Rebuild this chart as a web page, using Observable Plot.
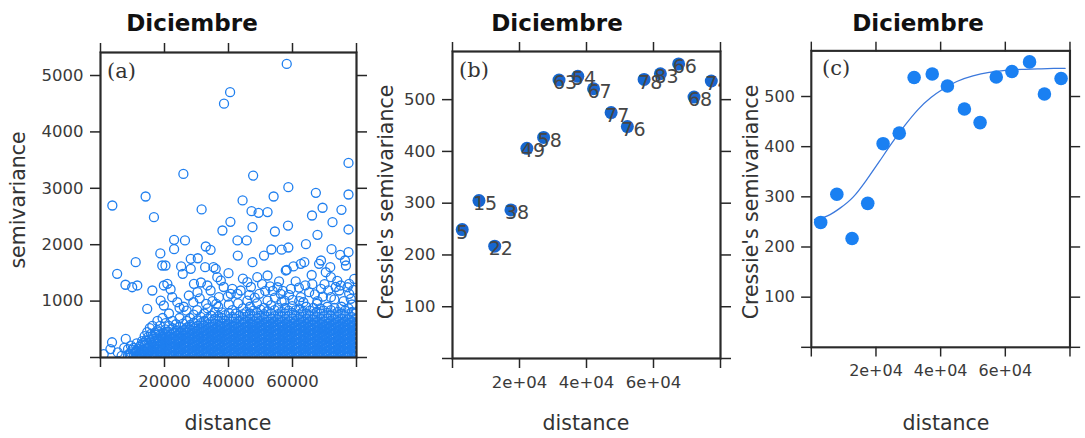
<!DOCTYPE html>
<html><head><meta charset="utf-8">
<script src="https://cdn.jsdelivr.net/npm/d3@7"></script>
<script src="https://cdn.jsdelivr.net/npm/@observablehq/plot@0.6"></script>
<style>
html,body{margin:0;padding:0;background:#fff;overflow:hidden}
#wrap{position:relative;width:1085px;height:438px;font-family:"DejaVu Sans",sans-serif;color:#333}
.p{position:absolute;top:0}
.title{position:absolute;top:12px;width:240px;margin-left:-120px;text-align:center;font-weight:bold;font-size:23px;line-height:23px;color:#111;white-space:nowrap}
.xlab{position:absolute;top:413px;width:200px;margin-left:-100px;text-align:center;font-size:20.5px;line-height:20.5px;color:#333}
.ylab{position:absolute;font-size:20.5px;line-height:20.5px;color:#333;white-space:nowrap;transform:translate(-50%,-50%) rotate(-90deg)}
.plab{position:absolute;font-family:"DejaVu Serif",serif;font-size:21px;line-height:21px;color:#333}
</style></head>
<body><div id="wrap"></div>
<script>
// ---------- data ----------
const panelTitle = "Diciembre";
const panelLetters = ["(a)", "(b)", "(c)"];
const xAxisTitle = "distance";
const yAxisTitleA = "semivariance";
const yAxisTitleBC = "Cressie's semivariance";

// binned (Cressie) variogram: mean distance (m), semivariance, number of pairs
const binDist  = [2900, 7900, 12600, 17450, 22200, 27200, 31800, 37400, 42100, 47350, 52200, 57200, 62050, 67500, 72100, 77250];
const binGamma = [249, 305, 217, 287, 406, 427, 538, 545, 521, 475, 448, 539, 550, 569, 505, 536];
const binNp    = [5, 15, 22, 38, 49, 58, 63, 54, 67, 77, 76, 78, 83, 66, 68, 74];

// fitted model line
const modelDist  = [1000, 5000, 9000, 13000, 17000, 21000, 25000, 29000, 33000, 37000, 41000, 45000, 50000, 55000, 60000, 65000, 70000, 75000, 78500];
const modelGamma = [255, 262, 278, 300, 333, 370, 408, 443, 474, 498, 516, 530, 541, 548, 552, 554, 555, 556, 556];

// variogram cloud: isolated points [distance km, semivariance]
const cloudSparse = [
[58.2,5205],[40.5,4705],[38.6,4500],
[77.5,3450],[25.9,3255],[47.7,3225],[58.7,3020],
[3.7,2695],[14.1,2855],[31.6,2625],[16.7,2488],[44.4,2785],[54.1,2855],[67.3,2920],[77.5,2890],[69.4,2655],[47.2,2595],[49.4,2565],[52.2,2578],[66.1,2518],[75.3,2618],
[40.6,2405],[38.1,2252],[47.5,2310],[58.6,2340],[54.5,2234],[72.5,2400],[67.8,2175],[77.5,2270],
[23.0,2087],[26.4,2075],[23.0,1920],[42.8,2075],[45.7,2075],[32.9,1968],[34.4,1909],[18.7,1845],[11.0,1690],[28.2,1750],[30.4,1760],[47.5,1690],[53.4,1915],[56.6,1912],[58.7,1950],[64.2,2010],[72.2,1920],[77.5,1867],[74.9,1820],[76.4,1720],[68.9,1720],[51.1,1808],[42.9,1808],
[5.2,1484],[7.8,1290],[9.9,1246],[11.5,1277],[16.2,1188],[19.3,1631],[20.3,1631],[19.8,1277],[21.9,1210],[14.6,863],[25.2,1615],[25.7,1484],[28.2,1573],[29.2,1306],[31.4,1330],[33.4,1277],[32.7,1601],[35.3,1601],[36.0,1573],[36.5,1424],[37.6,1365],[40.0,1495],[45.9,1335],[43.8,1188],[40.7,1129],[58.2,1554],[60.3,1615],[62.6,1661],[63.7,1690],[66.0,1463],[68.3,1661],[70.4,1512],[71.8,1601],[72.0,1424],[76.7,1631],[77.2,1246],[49.0,1424],[52.2,1454],[55.3,1246],[57.9,1543],[75.1,1277],[77.7,1306],[79.3,1395],[20.9,1306],
[18.8,1010],[19.8,922],[22.4,1069],[24.0,980],[27.6,1099],[30.3,1158],[34.4,1188],[37.0,1069],[41.2,1218],[42.8,1129],[45.9,1010],[49.6,1129],[52.2,1010],[56.3,1129],[59.5,1218],[62.6,1069],[65.2,1158],[68.9,1218],[72.0,1069],[74.6,1188],[77.7,1129],
[47.0,1250],[50.5,1300],[53.8,1180],[61.0,1350],[64.0,1280],[67.0,1120],[70.0,1300],[73.5,1250],[79.0,1200],[60.0,1020],[44.5,1400],[35.0,1000],[38.5,1250],[26.0,900],[29.0,980],[31.0,1050],[33.0,950],[57.5,1010],[76.0,1000],[54.5,1060],
[48.2,1060],[51.5,1180],[55.8,1350],[58.9,1110],[62.0,1240],[66.2,1300],[69.5,1080],[71.2,1190],[74.0,1360],[78.2,1040],[63.4,980],[67.8,1000],[53.0,1260],[57.0,1180],[46.5,1110],[43.0,960],[39.8,1080],[36.2,950],
[1.0,60],[3.1,150],[3.6,270],[5.4,90],[6.6,30],[7.4,170],[7.9,330]
];
// variogram cloud: dense band, one distance (km) with the semivariances stacked there
const cloudDense = [
[8.6,[40,150]],[9.5,[90,20,210]],[10.4,[60,170]],[11.3,[30,120,250]],[12.2,[80,190,20]],[13.0,[50,140,290]],
[13.8,[20,100,210,380]],[14.6,[70,160,260,450]],[15.4,[30,120,210,320,520]],[16.2,[60,150,250,380,560]],
[17.0,[20,100,200,290,440]],[17.8,[60,150,240,340,480,650]],[18.6,[30,110,200,280,390,560]],[19.4,[70,150,240,330,430,700]],
[20.3,[20,95,170,255,330,410,500,610]],[21.4,[55,135,215,290,370,455,560,780]],[22.5,[15,90,175,250,335,420,520,650]],
[23.6,[60,140,220,300,385,470,590]],[24.7,[25,100,180,265,345,430,540,700,880]],[25.8,[70,150,230,310,390,480,600]],
[26.9,[35,110,195,275,355,440,530,650,830]],[28.0,[80,160,240,320,400,490,580,700]],[29.1,[20,100,185,260,345,425,515,620,760]],
[30.2,[60,140,225,305,380,465,560,660,840]],[31.3,[30,110,190,270,350,435,520,610,720]],[32.4,[75,155,235,315,395,480,565,650,780]],
[33.5,[15,95,180,260,340,420,505,590,690,870]],[34.6,[55,135,220,300,380,465,545,630,740]],[35.7,[25,105,190,270,350,430,510,600,690,810]],
[36.8,[70,150,230,310,390,475,555,640,730,900]],[37.9,[35,115,195,280,360,440,520,610,700,800]],[39.0,[80,160,240,320,405,485,565,650,750]],
[40.1,[20,100,180,265,345,425,505,590,680,790,940]],[41.2,[60,140,225,305,385,465,550,635,720,840]],[42.3,[30,110,190,275,355,435,515,600,690,780]],
[43.4,[75,155,235,320,400,480,560,650,740]],[44.5,[15,95,175,260,340,420,505,590,680,770,870]],[45.6,[55,135,215,300,380,460,545,630,720,810]],
[46.7,[25,105,185,270,350,430,515,600,690,780,900]],[47.8,[70,150,230,310,395,475,555,640,730,830]],[48.9,[35,115,195,280,360,440,520,605,695,790,960]],
[50.0,[80,160,240,325,405,485,565,650,740,850]],[51.1,[20,100,180,260,345,425,505,590,680,770,880]],[52.2,[60,140,220,305,385,465,550,635,720,820]],
[53.3,[30,110,190,275,355,435,515,600,690,780,930]],[54.4,[75,155,235,315,400,480,560,645,735,840]],[55.5,[15,95,175,260,340,420,500,585,675,770,880]],
[56.6,[55,135,215,300,380,460,545,630,720,810,990]],[57.7,[25,105,185,270,350,430,510,595,685,780,880]],[58.8,[70,150,230,310,390,475,555,640,730,830]],
[59.9,[35,115,195,275,360,440,520,605,695,790,910]],[61.0,[80,160,240,320,400,485,565,650,740,840]],[62.1,[20,100,180,265,345,425,505,590,680,770,870,1000]],
[63.2,[60,140,220,300,385,465,545,630,720,810]],[64.3,[30,110,190,270,355,435,515,600,690,780,900]],[65.4,[75,155,235,315,395,480,560,645,735,830]],
[66.5,[15,95,175,255,340,420,500,585,675,770,880]],[67.6,[55,135,215,295,380,460,540,625,715,810,950]],[68.7,[25,105,185,265,350,430,510,595,685,780,870]],
[69.8,[70,150,230,310,390,470,555,640,730,830]],[70.9,[35,115,195,275,355,440,520,605,695,790,900]],[72.0,[80,160,240,320,400,480,565,650,740,840]],
[73.1,[20,100,180,260,345,425,505,590,680,770,880,1030]],[74.2,[60,140,220,300,385,465,545,630,720,810]],[75.3,[30,110,190,270,350,435,515,600,690,780,900]],
[76.4,[75,155,235,315,395,475,560,645,735,830]],[77.5,[15,95,175,255,340,420,500,585,675,770,870]],[78.6,[55,135,215,295,375,460,540,625,715,810,940]],
[79.6,[25,105,185,265,345,430,510,595,685,780]]
];
// variogram cloud: the solid bottom of the band, between the columns above
const cloudDenseLow = [
[9.0,[70]],[10.0,[140]],[10.9,[10,90]],[11.8,[150]],[12.6,[60,220]],[13.4,[110,260]],
[14.2,[50,160,300]],[15.0,[90,190,370]],[15.8,[20,130,280,420]],[16.6,[80,190,330]],[17.4,[40,150,250,400]],[18.2,[100,190,300,450]],[19.0,[50,160,250,360]],[19.85,[20,110,200,290,380]],
[20.85,[50,130,210,290,370,450]],[21.95,[20,100,180,260,330,410]],[23.05,[40,120,200,280,360,440]],[24.15,[10,90,160,240,320,400,480]],
[25.25,[60,140,210,290,360,440]],[26.35,[20,100,180,250,330,410,490]],[27.45,[50,130,200,280,360,450]],[28.55,[10,90,170,240,320,400,480]],
[29.65,[60,130,210,290,370,450,540]],[30.75,[20,100,170,250,330,410,490]],[31.85,[50,130,210,290,370,450,530]],[32.95,[10,90,170,250,320,400,480]],
[34.05,[60,140,210,290,370,450,530]],[35.15,[20,100,170,250,330,410,490,570]],[36.25,[50,130,210,290,370,450,530]],[37.35,[10,90,170,250,330,400,480,560]],
[38.45,[60,140,210,290,370,450,530]],[39.55,[20,100,170,250,330,410,490,570]],[40.65,[50,130,210,290,370,450,530]],[41.75,[10,90,170,250,330,400,480,560]],
[42.85,[60,140,210,290,370,450,530]],[43.95,[20,100,170,250,330,410,490]],[45.05,[50,130,210,290,370,450,530,610]],[46.15,[10,90,170,250,330,400,480,560]],
[47.25,[60,140,210,290,370,450,530,610]],[48.35,[20,100,170,250,330,410,490,570]],[49.45,[50,130,210,290,370,450,530,610]],[50.55,[10,90,170,250,330,400,480,560]],
[51.65,[60,140,210,290,370,450,530,610]],[52.75,[20,100,170,250,330,410,490,570]],[53.85,[50,130,210,290,370,450,530,610]],[54.95,[10,90,170,250,330,400,480,560]],
[56.05,[60,140,210,290,370,450,530,610]],[57.15,[20,100,170,250,330,410,490,570]],[58.25,[50,130,210,290,370,450,530,610]],[59.35,[10,90,170,250,330,400,480,560]],
[60.45,[60,140,210,290,370,450,530,610]],[61.55,[20,100,170,250,330,410,490,570]],[62.65,[50,130,210,290,370,450,530,610]],[63.75,[10,90,170,250,330,400,480,560]],
[64.85,[60,140,210,290,370,450,530,610]],[65.95,[20,100,170,250,330,410,490,570]],[67.05,[50,130,210,290,370,450,530,610]],[68.15,[10,90,170,250,330,400,480,560]],
[69.25,[60,140,210,290,370,450,530,610]],[70.35,[20,100,170,250,330,410,490,570]],[71.45,[50,130,210,290,370,450,530,610]],[72.55,[10,90,170,250,330,400,480,560]],
[73.65,[60,140,210,290,370,450,530,610]],[74.75,[20,100,170,250,330,410,490,570]],[75.85,[50,130,210,290,370,450,530,610]],[76.95,[10,90,170,250,330,400,480,560]],
[78.05,[60,140,210,290,370,450,530,610]],[79.1,[20,100,170,250,330,410,490,570]]
];

// axes
const xTicks = [0, 20000, 40000, 60000, 80000];
const xTickLabelsA  = ["", "20000", "40000", "60000", ""];
const xTickLabelsBC = ["", "2e+04", "4e+04", "6e+04", ""];
const yTicksA  = [0, 1000, 2000, 3000, 4000, 5000];
const yTickLabelsA = ["", "1000", "2000", "3000", "4000", "5000"];
const yTicksBC = [0, 100, 200, 300, 400, 500];
const yTickLabelsBC = ["", "100", "200", "300", "400", "500"];

// ---------- build ----------
const expand = arr => arr.flatMap(([d, gs]) => gs.map(g => ({d: d * 1000, g})));
const cloud = cloudSparse.map(([d, g]) => ({d: d * 1000, g}))
  .concat(expand(cloudDense), expand(cloudDenseLow));
const bins = binDist.map((d, i) => ({d, g: binGamma[i], np: String(binNp[i])}));
const model = modelDist.map((d, i) => ({d, g: modelGamma[i]}));

const wrap = document.getElementById("wrap");
const ML = 70, MR = 16;

function axes(xLabels, yTicks, yLabels) {
  const c = {fontSize: 16.5, tickSize: 10, strokeWidth: 1.5, stroke: "#262626", fill: "#3a3a3a", label: null};
  return [
    Plot.frame({stroke: "#2a2a2a", strokeWidth: 2.2}),
    Plot.axisX({...c, anchor: "bottom", ticks: xTicks, tickPadding: 8, tickFormat: d => xLabels[xTicks.indexOf(d)]}),
    Plot.axisX({...c, anchor: "top", ticks: xTicks, tickFormat: () => ""}),
    Plot.axisY({...c, anchor: "left", ticks: yTicks, tickPadding: 7, tickFormat: d => yLabels[yTicks.indexOf(d)]}),
    Plot.axisY({...c, anchor: "right", ticks: yTicks, tickFormat: () => ""})
  ];
}

function place(svg, left) {
  const d = document.createElement("div");
  d.className = "p"; d.style.left = left + "px";
  d.appendChild(svg); wrap.appendChild(d);
}
const style = {fontFamily: "DejaVu Sans, sans-serif", color: "#3c3c3c", background: "transparent", overflow: "visible"};

// panel a
place(Plot.plot({
  width: ML + 256 + MR, height: 438, marginLeft: ML, marginRight: MR, marginTop: 52, marginBottom: 81,
  x: {domain: [0, 80000]}, y: {domain: [0, 5408]}, style,
  marks: [
    Plot.dot(cloud, {x: "d", y: "g", r: 4.5, stroke: "#1f7fef", strokeWidth: 1.3, clip: true}),
    ...axes(xTickLabelsA, yTicksA, yTickLabelsA)
  ]
}), 100 - ML);

// panel b
place(Plot.plot({
  width: ML + 268 + MR, height: 438, marginLeft: ML, marginRight: MR, marginTop: 51, marginBottom: 80,
  x: {domain: [0, 80000]}, y: {domain: [0, 593]}, style,
  marks: [
    Plot.dot(bins, {x: "d", y: "g", r: 6.5, fill: "#1766cf", clip: true}),
    Plot.text(bins, {x: "d", y: "g", text: "np", textAnchor: "start", dx: -6, dy: 3, fontSize: 19, fill: "#454545", clip: true}),
    ...axes(xTickLabelsBC, yTicksBC, yTickLabelsBC)
  ]
}), 452 - ML);

// panel c
place(Plot.plot({
  width: ML + 267 + MR, height: 438, marginLeft: ML, marginRight: MR, marginTop: 52, marginBottom: 80,
  x: {domain: [0, 80000]}, y: {domain: [0, 591]}, style,
  marks: [
    Plot.line(model, {x: "d", y: "g", stroke: "#3b78dc", strokeWidth: 1.3, curve: "natural"}),
    Plot.dot(bins, {x: "d", y: "g", r: 7, fill: "#1a80f2", clip: true}),
    ...axes(xTickLabelsBC, yTicksBC, yTickLabelsBC)
  ]
}), 813 - ML);

// html text
function addText(cls, txt, css) {
  const e = document.createElement("div");
  e.className = cls; e.textContent = txt;
  Object.assign(e.style, css); wrap.appendChild(e);
}
[192, 557, 918].forEach(x => addText("title", panelTitle, {left: x + "px"}));
[228, 586, 946].forEach(x => addText("xlab", xAxisTitle, {left: x + "px"}));
addText("ylab", yAxisTitleA, {left: "17.5px", top: "200px"});
addText("ylab", yAxisTitleBC, {left: "386px", top: "202px"});
addText("ylab", yAxisTitleBC, {left: "751px", top: "202px"});
addText("plab", panelLetters[0], {left: "107px", top: "61px"});
addText("plab", panelLetters[1], {left: "459px", top: "60px"});
addText("plab", panelLetters[2], {left: "822px", top: "58px"});
</script>
</body></html>
